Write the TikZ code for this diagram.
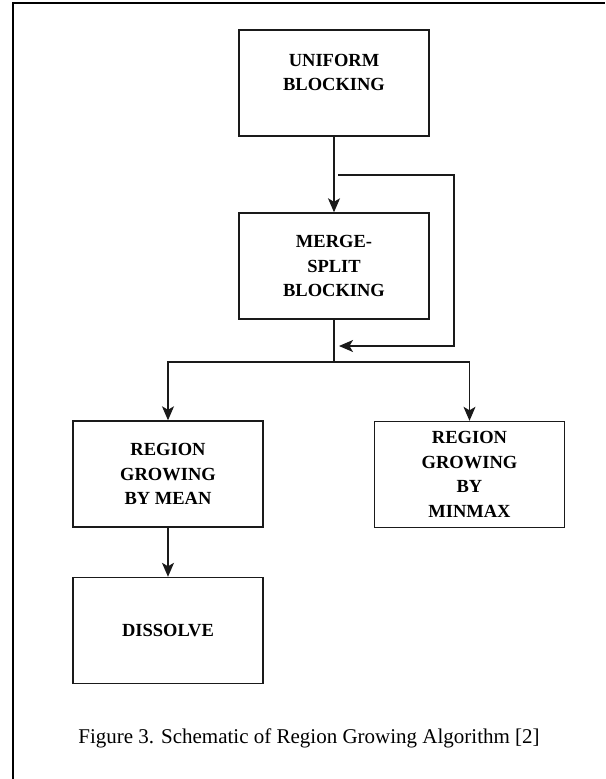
\documentclass[tikz,border=0pt]{standalone}
\usepackage{fontspec}
\setmainfont{Liberation Serif}
\usepackage{tikz}
\usetikzlibrary{arrows.meta,calc}
\definecolor{cizgiSiyah}{HTML}{1A1A1A}

\begin{document}
\begin{tikzpicture}[x=1pt,y=-1pt,
  kutuYazi/.style={align=center,font=\fontsize{18.5}{24.5}\selectfont\bfseries},
  kutu/.style={draw=cizgiSiyah,line width=1.4pt,minimum width=190pt,minimum height=106pt,inner sep=0pt,kutuYazi},
  baglanti/.style={draw=cizgiSiyah,line width=1.3pt},
  okCizgi/.style={baglanti,-{Stealth[length=14pt,width=12pt,inset=3.5pt]}}]
\useasboundingbox (0,0) rectangle (605,779);
\draw[line width=2pt] (12,3) -- (605,3);
\draw[line width=2pt] (13,2) -- (13,779);
\node[kutu,label={[kutuYazi,yshift=10.5pt]center:UNIFORM\\BLOCKING}] (unif) at (334,83) {};
\node[kutu] (merge) at (334,266) {MERGE-\\SPLIT\\BLOCKING};
\node[kutu] (mean) at (168,474) {REGION\\GROWING\\BY MEAN};
\node[kutu] (minmax) at (469.5,474.5) {REGION\\GROWING\\BY\\MINMAX};
\node[kutu] (dissolve) at (168,630.5) {DISSOLVE};
\node[font=\fontsize{21}{25}\selectfont] (baslik) at (309,738) {Figure 3. Schematic of Region Growing Algorithm [2]};
% geri besleme
\coordinate (fbA) at (338,175);
\coordinate (fbC) at (454,346);
\coordinate (fbB) at (339,346);
\coordinate (ayrim) at (334,362);
\draw[okCizgi] (unif.south) -- (merge.north);
\draw[okCizgi] (fbA) -| (fbC) -- (fbB);
\draw[baglanti] (merge.south) -- (ayrim);
\draw[okCizgi] (ayrim) -| (mean.north);
\draw[okCizgi] (ayrim) -| (minmax.north);
\draw[okCizgi] (mean.south) -- (dissolve.north);
\end{tikzpicture}
\end{document}
